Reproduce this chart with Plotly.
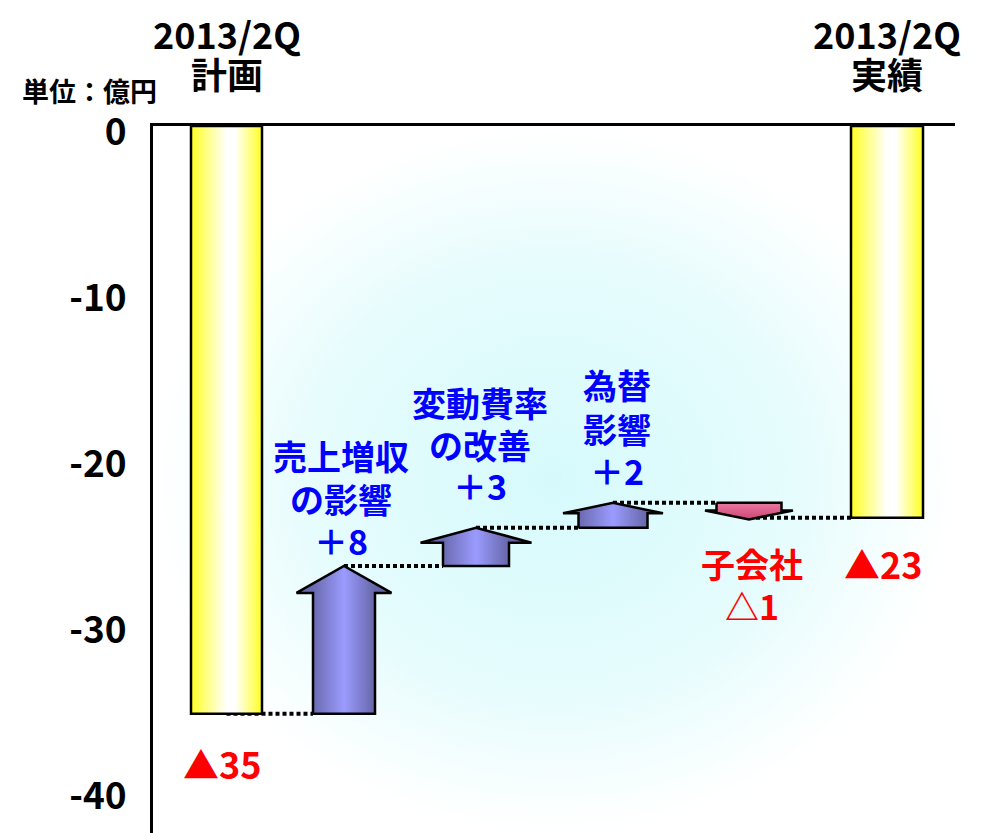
import plotly.graph_objects as go

# ---------------- data ----------------
categories = ["2013/2Q 計画", "売上増収の影響", "変動費率の改善", "為替影響", "子会社", "2013/2Q 実績"]
plan_value = -35.4
deltas = [8.9, 2.3, 1.5, -1.0]
actual_value = -23.6
tick_vals = [0, -10, -20, -30, -40]
tick_text = ["0", "-10", "-20", "-30", "-40"]
header_lines = [["2013/2Q", "計画"], ["2013/2Q", "実績"]]
delta_label_lines = [["売上増収", "の影響", "＋8"],
                     ["変動費率", "の改善", "＋3"],
                     ["為替", "影響", "＋2"],
                     ["子会社", "△1"]]
total_labels = ["▲35", "▲23"]
unit_label = "単位：億円"

# ---------------- layout / style constants (pixel based) ----------------
W, H = 985, 833
TOP_PX = 126
PX_PER_UNIT = 16.6
PLOT_L, PLOT_R = 153, 955
y_min = -(H - TOP_PX) / PX_PER_UNIT

def py2paper(py):
    return (H - py) / (H - TOP_PX)

def px2paper(px):
    return (px - PLOT_L) / (PLOT_R - PLOT_L)

x_centers = [226.5, 344, 476, 613, 749, 887]
bar_half_w = [35.5, 36]
arrow_body_hw = [31, 33, 34.5, 32.5]
arrow_head_hw = [47.5, 55.5, 50, 44]
arrow_head_px = [27, 15, 10.5, 9]

FONT = "Noto Sans CJK JP"
BLUE = "#0000ff"
RED = "#ff0000"

fig = go.Figure()

# background radial gradient (decoration)
fig.add_trace(go.Scatter(
    x=[PLOT_L, PLOT_R, PLOT_R, PLOT_L, PLOT_L],
    y=[0, 0, y_min, y_min, 0],
    mode="lines", line=dict(width=0), fill="toself",
    fillgradient=dict(type="radial",
                      colorscale=[[0, "#d6fafc"], [0.6, "#e6fcfd"], [1, "#ffffff"]]),
    hoverinfo="skip", showlegend=False))

# cumulative levels
levels = [plan_value]
for d in deltas:
    levels.append(levels[-1] + d)

# dotted connectors
conn_x0 = [x_centers[0]] + [x_centers[i + 1] for i in range(len(deltas))]
conn_x1 = [x_centers[i + 1] - arrow_body_hw[i] for i in range(len(deltas))] + [x_centers[5] - bar_half_w[1]]
conn_y = [levels[0]] + levels[1:4] + [actual_value]
for i in range(len(conn_x0)):
    fig.add_trace(go.Scatter(
        x=[conn_x0[i], conn_x1[i]], y=[conn_y[i], conn_y[i]],
        mode="lines", line=dict(color="black", width=4, dash="4px,3px"),
        hoverinfo="skip", showlegend=False))

# total bars
bar_grad = [[0, "#ffff22"], [0.5, "#ffffff"], [0.62, "#ffffff"], [1, "#ffff22"]]
for cx, hw, val in [(x_centers[0], bar_half_w[0], plan_value),
                    (x_centers[5], bar_half_w[1], actual_value)]:
    fig.add_trace(go.Scatter(
        x=[cx - hw, cx + hw, cx + hw, cx - hw, cx - hw],
        y=[0, 0, val, val, 0],
        mode="lines", line=dict(color="black", width=2.5), fill="toself",
        fillgradient=dict(type="horizontal", colorscale=bar_grad,
                          start=cx - hw, stop=cx + hw),
        hoverinfo="skip", showlegend=False))

# arrows
up_grad = [[0, "#6a6ab0"], [0.5, "#9b9bff"], [1, "#6666a8"]]
for i, d in enumerate(deltas):
    cx = x_centers[i + 1]
    bw, hw = arrow_body_hw[i], arrow_head_hw[i]
    y0 = levels[i]
    y1 = levels[i + 1]
    hl = arrow_head_px[i] / PX_PER_UNIT
    yh = y1 - hl if d > 0 else y1 + hl
    xs = [cx - bw, cx - bw, cx - hw, cx, cx + hw, cx + bw, cx + bw, cx - bw]
    ys = [y0, yh, yh, y1, yh, yh, y0, y0]
    if d > 0:
        fg = dict(type="horizontal", colorscale=up_grad, start=cx - bw, stop=cx + bw)
    else:
        fg = dict(type="vertical", colorscale=[[0, "#cc4474"], [1, "#ea7aa2"]],
                  start=y1, stop=y0)
    fig.add_trace(go.Scatter(
        x=xs, y=ys, mode="lines", line=dict(color="black", width=2.5),
        fill="toself", fillgradient=fg, hoverinfo="skip", showlegend=False))

# ---------------- text ----------------
def add_text(px, py, text, size, color):
    fig.add_annotation(x=px2paper(px), y=py2paper(py), xref="paper", yref="paper",
                       text=text, showarrow=False,
                       xanchor="center", yanchor="middle", align="center",
                       borderpad=0,
                       font=dict(family=FONT, size=size, color=color, weight=700))

header_x = [227, 887]
header_py = [33, 73]
for hx, lines in zip(header_x, header_lines):
    for line, py in zip(lines, header_py):
        add_text(hx, py, line, 36, "black")

add_text(89, 91, unit_label, 27, "black")

delta_label_x = [341, 480, 617, 752]
delta_label_py = [[455, 498, 540], [402, 444, 485], [384, 428, 470], [563, 605]]
for i, lines in enumerate(delta_label_lines):
    color = BLUE if deltas[i] > 0 else RED
    for line, py in zip(lines, delta_label_py[i]):
        add_text(delta_label_x[i], py, line, 34, color)

add_text(222, 763, total_labels[0], 36, RED)
add_text(883, 563, total_labels[1], 36, RED)

fig.update_layout(
    width=W, height=H,
    margin=dict(l=PLOT_L, r=W - PLOT_R, t=TOP_PX, b=0, pad=0),
    paper_bgcolor="white", plot_bgcolor="white",
    showlegend=False,
    xaxis=dict(range=[PLOT_L, PLOT_R], side="top", showline=True, linewidth=3,
               linecolor="black", showticklabels=False, ticks="", showgrid=False,
               zeroline=False, fixedrange=True),
    yaxis=dict(range=[y_min, 0], showline=True, linewidth=3, linecolor="black",
               ticks="", showgrid=False, zeroline=False, tickvals=tick_vals,
               ticktext=tick_text, ticklabelstandoff=16, ticklabelshift=6,
               tickfont=dict(family=FONT, size=37, color="black", weight=700),
               fixedrange=True),
)

fig.write_html("out.html")
